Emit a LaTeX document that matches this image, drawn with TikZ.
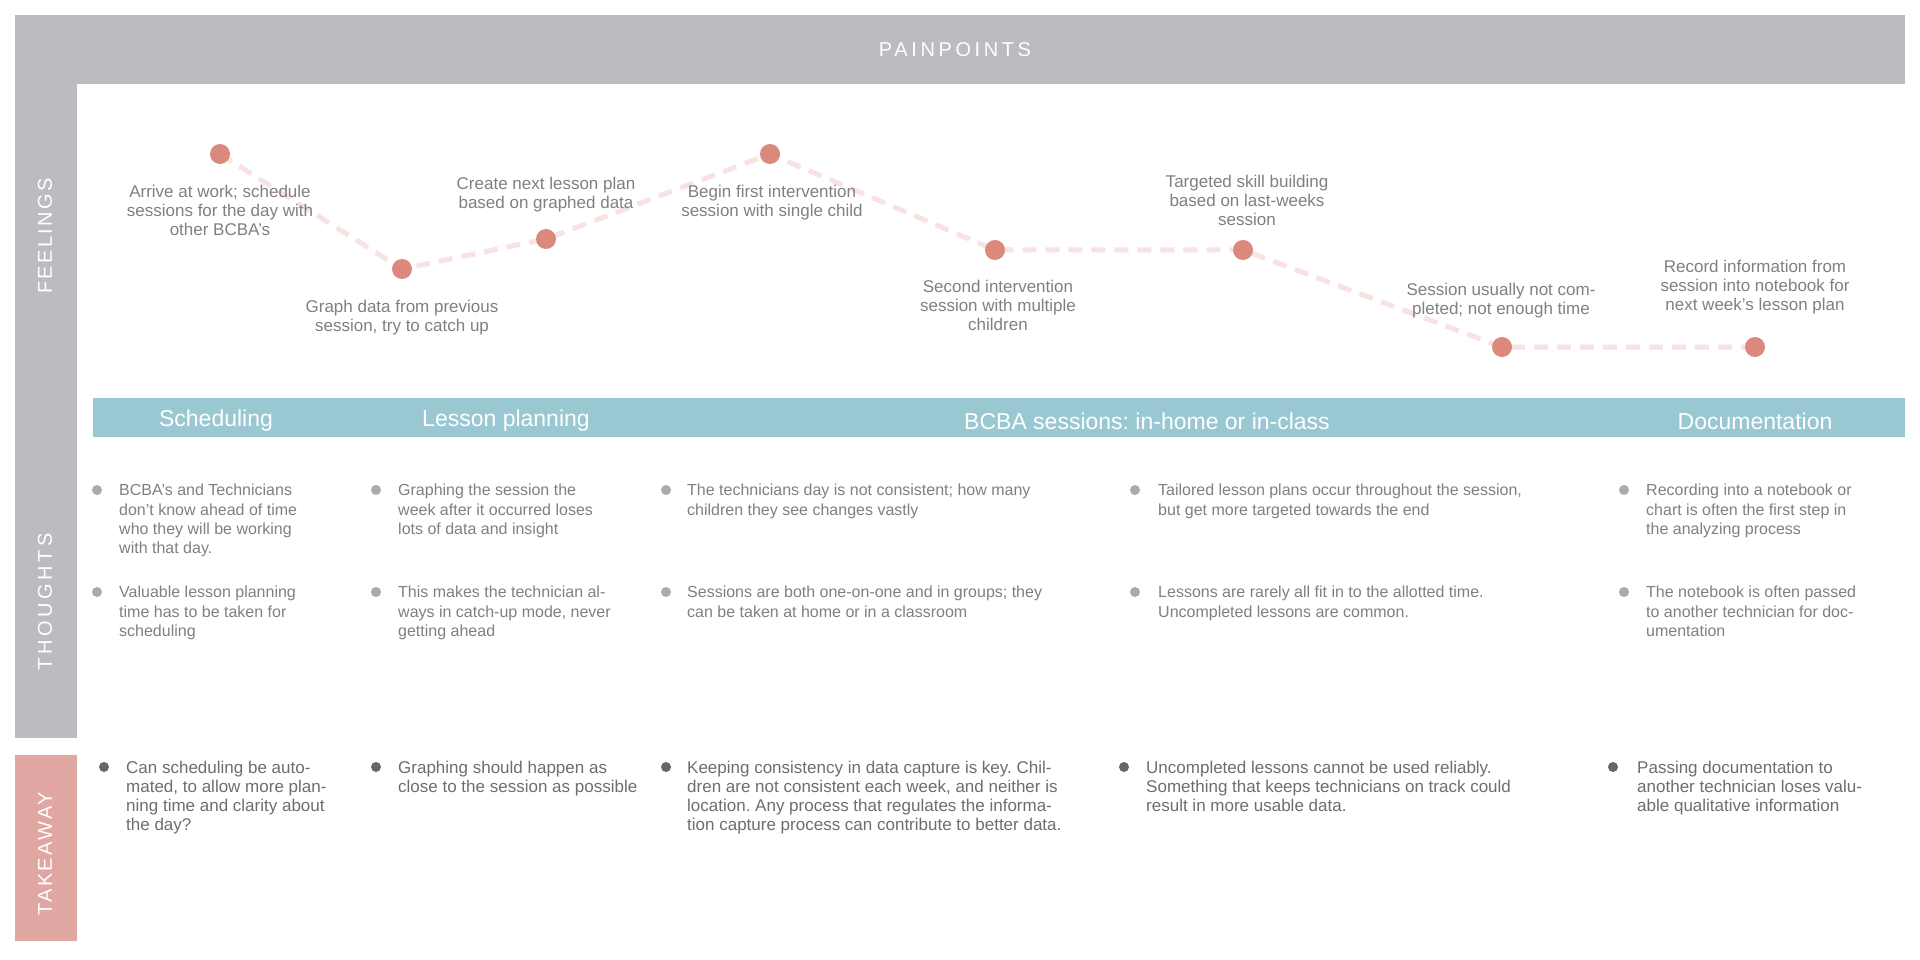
\documentclass[tikz,border=0pt]{standalone}
\usepackage{fontspec}
\setmainfont{Liberation Sans}
\newfontfamily\capsfont[LetterSpace=18]{Liberation Sans}
\newfontfamily\capsnarrow[LetterSpace=12]{Liberation Sans}
\definecolor{hdr}{HTML}{BBBCC0}
\definecolor{teal}{HTML}{9AC8D2}
\definecolor{pinkbox}{HTML}{E0A6A1}
\definecolor{dotc}{HTML}{DB887D}
\definecolor{dashc}{HTML}{F8E2E2}
\definecolor{txt}{HTML}{808080}
\definecolor{txtk}{HTML}{6E6E6E}
\definecolor{bulg}{HTML}{ABABAB}
\definecolor{bulk}{HTML}{666666}
\begin{document}
\frenchspacing
\begin{tikzpicture}[x=1pt,y=-1pt,
  dot/.style={circle,fill=dotc,minimum size=20pt,inner sep=0pt},
  feel/.style={font=\fontsize{17}{19.2}\selectfont,text=txt,align=center,anchor=north,inner sep=0pt},
  thought/.style={font=\fontsize{16}{19.3}\selectfont,text=txt,align=left,anchor=north west,inner sep=0pt},
  take/.style={font=\fontsize{17}{19.3}\selectfont,text=txtk,align=left,anchor=north west,inner sep=0pt},
  tbul/.style={circle,fill=bulg,minimum size=10pt,inner sep=0pt},
  kbul/.style={circle,fill=bulk,minimum size=10pt,inner sep=0pt},
  phase/.style={font=\fontsize{23}{26}\selectfont,text=white,inner sep=0pt},
  vlabel/.style={font=\capsfont\fontsize{20}{24}\selectfont,text=white,rotate=90,inner sep=0pt},
  vlabeln/.style={font=\capsnarrow\fontsize{20}{24}\selectfont,text=white,rotate=90,inner sep=0pt},
  link/.style={draw=dashc,line width=5pt,dash pattern=on 14pt off 9pt}
]
\fill[white] (0,0) rectangle (1920,960);
\useasboundingbox (0,0) rectangle (1920,960);
% frames
\fill[hdr] (15,15) rectangle (1905,84);
\fill[hdr] (15,84) rectangle (77,738);
\fill[pinkbox] (15,755) rectangle (77,941);
\fill[teal] (93,398) rectangle (1905,437);
\node[font=\capsfont\fontsize{20}{24}\selectfont,text=white,inner sep=0pt] (ptitle) at (955,50) {PAINPOINTS};
\node[vlabeln] (vfeel) at (45,236) {FEELINGS};
\node[vlabel] (vthought) at (45,602) {THOUGHTS};
\node[vlabeln] (vtake) at (45,854) {TAKEAWAY};
% phases
\node[phase] (ph1) at (216,421) {Scheduling};
\node[phase] (ph2) at (506,421) {Lesson planning};
\node[phase] (ph3) at (1147,421) {BCBA sessions: in-home or in-class};
\node[phase] (ph4) at (1755,421) {Documentation};
% feelings curve
\coordinate (c1) at (220,154);
\coordinate (c2) at (402,269);
\coordinate (c3) at (546,239);
\coordinate (c4) at (770,154);
\coordinate (c5) at (995,250);
\coordinate (c6) at (1243,250);
\coordinate (c7) at (1502,347);
\coordinate (c8) at (1755,347);
\draw[link] (c1) -- (c2) -- (c3) -- (c4) -- (c5) -- (c6) -- (c7) -- (c8);
\foreach \i in {1,...,8} \node[dot] (d\i) at (c\i) {};
\node[feel] (f1) at (220,184.5) {Arrive at work; schedule\\sessions for the day with\\other BCBA’s};
\node[feel] (f2) at (402,299.5) {Graph data from previous\\session, try to catch up};
\node[feel] (f3) at (546,176.5) {Create next lesson plan\\based on graphed data};
\node[feel] (f4) at (772,184.5) {Begin first intervention\\session with single child};
\node[feel] (f5) at (998,279.5) {Second intervention\\session with multiple\\children};
\node[feel] (f6) at (1247,174.5) {Targeted skill building\\based on last-weeks\\session};
\node[feel] (f7) at (1501,282.5) {Session usually not com-\\pleted; not enough time};
\node[feel] (f8) at (1755,259.5) {Record information from\\session into notebook for\\next week’s lesson plan};
% thoughts
\node[tbul] (b11) at (97,490) {};
\node[thought] (t11) at (119,484) {BCBA’s and Technicians\\don’t know ahead of time\\who they will be working\\with that day.};
\node[tbul] (b12) at (97,592) {};
\node[thought] (t12) at (119,586) {Valuable lesson planning\\time has to be taken for\\scheduling};
\node[tbul] (b21) at (376,490) {};
\node[thought] (t21) at (398,484) {Graphing the session the\\week after it occurred loses\\lots of data and insight};
\node[tbul] (b22) at (376,592) {};
\node[thought] (t22) at (398,586) {This makes the technician al-\\ways in catch-up mode, never\\getting ahead};
\node[tbul] (b31) at (666,490) {};
\node[thought] (t31) at (687,484) {The technicians day is not consistent; how many\\children they see changes vastly};
\node[tbul] (b32) at (666,592) {};
\node[thought] (t32) at (687,586) {Sessions are both one-on-one and in groups; they\\can be taken at home or in a classroom};
\node[tbul] (b41) at (1135,490) {};
\node[thought] (t41) at (1158,484) {Tailored lesson plans occur throughout the session,\\but get more targeted towards the end};
\node[tbul] (b42) at (1135,592) {};
\node[thought] (t42) at (1158,586) {Lessons are rarely all fit in to the allotted time.\\Uncompleted lessons are common.};
\node[tbul] (b51) at (1624,490) {};
\node[thought] (t51) at (1646,484) {Recording into a notebook or\\chart is often the first step in\\the analyzing process};
\node[tbul] (b52) at (1624,592) {};
\node[thought] (t52) at (1646,586) {The notebook is often passed\\to another technician for doc-\\umentation};
% takeaways
\node[kbul] (k1) at (104,767) {};
\node[take] (a1) at (126,760.5) {Can scheduling be auto-\\mated, to allow more plan-\\ning time and clarity about\\the day?};
\node[kbul] (k2) at (376,767) {};
\node[take] (a2) at (398,760.5) {Graphing should happen as\\close to the session as possible};
\node[kbul] (k3) at (666,767) {};
\node[take] (a3) at (687,760.5) {Keeping consistency in data capture is key. Chil-\\dren are not consistent each week, and neither is\\location. Any process that regulates the informa-\\tion capture process can contribute to better data.};
\node[kbul] (k4) at (1124,767) {};
\node[take] (a4) at (1146,760.5) {Uncompleted lessons cannot be used reliably.\\Something that keeps technicians on track could\\result in more usable data.};
\node[kbul] (k5) at (1613,767) {};
\node[take] (a5) at (1637,760.5) {Passing documentation to\\another technician loses valu-\\able qualitative information};
\end{tikzpicture}
\end{document}
